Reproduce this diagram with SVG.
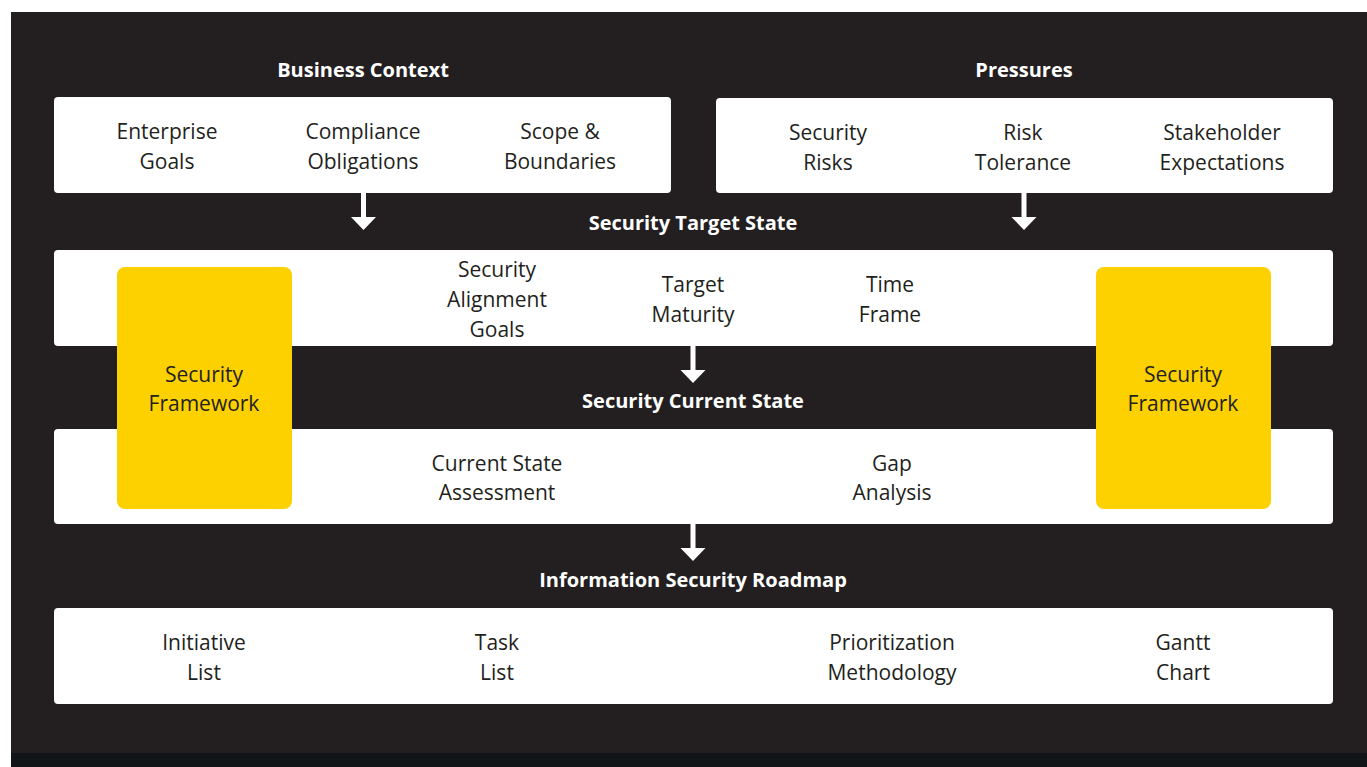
<svg xmlns="http://www.w3.org/2000/svg" width="1367" height="767" viewBox="0 0 1367 767">
<style>
.box{fill:#ffffff;}
.fw{fill:#fdd100;}
.h{font-family:"Open Sans","Liberation Sans",sans-serif;font-weight:bold;font-size:20px;fill:#ffffff;text-anchor:middle;}
.t{font-family:"Open Sans","Liberation Sans",sans-serif;font-size:21px;fill:#231f20;text-anchor:middle;}
.arrow{fill:#ffffff;}
</style>
<defs>
<path id="arr" d="M-2.5,0 H2.5 V24 H12.5 L0,37 L-12.5,24 H-2.5 Z"/>
</defs>
<rect x="0" y="0" width="1367" height="767" fill="#ffffff"/>
<rect x="11" y="12" width="1356" height="755" fill="#231f20"/>
<rect x="11" y="753" width="1356" height="14" fill="#111518"/>

<g id="business-context">
<text class="h" x="363" y="77">Business Context</text>
<rect class="box" x="54" y="97" width="617" height="96" rx="4"/>
<text class="t" x="167" y="139">Enterprise</text>
<text class="t" x="167" y="169">Goals</text>
<text class="t" x="363" y="139">Compliance</text>
<text class="t" x="363" y="169">Obligations</text>
<text class="t" x="560" y="139">Scope &amp;</text>
<text class="t" x="560" y="169">Boundaries</text>
</g>

<g id="pressures">
<text class="h" x="1024" y="77">Pressures</text>
<rect class="box" x="716" y="98" width="617" height="95" rx="4"/>
<text class="t" x="828" y="140">Security</text>
<text class="t" x="828" y="170">Risks</text>
<text class="t" x="1023" y="140">Risk</text>
<text class="t" x="1023" y="170">Tolerance</text>
<text class="t" x="1222" y="140">Stakeholder</text>
<text class="t" x="1222" y="170">Expectations</text>
</g>

<g id="target-state">
<text class="h" x="693" y="230">Security Target State</text>
<rect class="box" x="54" y="250" width="1279" height="96" rx="4"/>
<text class="t" x="497" y="277">Security</text>
<text class="t" x="497" y="307">Alignment</text>
<text class="t" x="497" y="337">Goals</text>
<text class="t" x="693" y="292">Target</text>
<text class="t" x="693" y="322">Maturity</text>
<text class="t" x="890" y="292">Time</text>
<text class="t" x="890" y="322">Frame</text>
</g>

<g id="current-state">
<text class="h" x="693" y="408">Security Current State</text>
<rect class="box" x="54" y="429" width="1279" height="95" rx="4"/>
<text class="t" x="497" y="471">Current State</text>
<text class="t" x="497" y="500">Assessment</text>
<text class="t" x="892" y="471">Gap</text>
<text class="t" x="892" y="500">Analysis</text>
</g>

<g id="roadmap">
<text class="h" x="693" y="587">Information Security Roadmap</text>
<rect class="box" x="54" y="608" width="1279" height="96" rx="4"/>
<text class="t" x="204" y="650">Initiative</text>
<text class="t" x="204" y="680">List</text>
<text class="t" x="497" y="650">Task</text>
<text class="t" x="497" y="680">List</text>
<text class="t" x="892" y="650">Prioritization</text>
<text class="t" x="892" y="680">Methodology</text>
<text class="t" x="1183" y="650">Gantt</text>
<text class="t" x="1183" y="680">Chart</text>
</g>

<g id="framework-left">
<rect class="fw" x="117" y="267" width="175" height="242" rx="8"/>
<text class="t" x="204" y="382">Security</text>
<text class="t" x="204" y="411">Framework</text>
</g>

<g id="framework-right">
<rect class="fw" x="1096" y="267" width="175" height="242" rx="8"/>
<text class="t" x="1183" y="382">Security</text>
<text class="t" x="1183" y="411">Framework</text>
</g>

<g id="connectors">
<use href="#arr" class="arrow" x="363.5" y="193"/>
<use href="#arr" class="arrow" x="1024" y="193"/>
<use href="#arr" class="arrow" x="693" y="346"/>
<use href="#arr" class="arrow" x="693" y="524"/>
</g>
</svg>
